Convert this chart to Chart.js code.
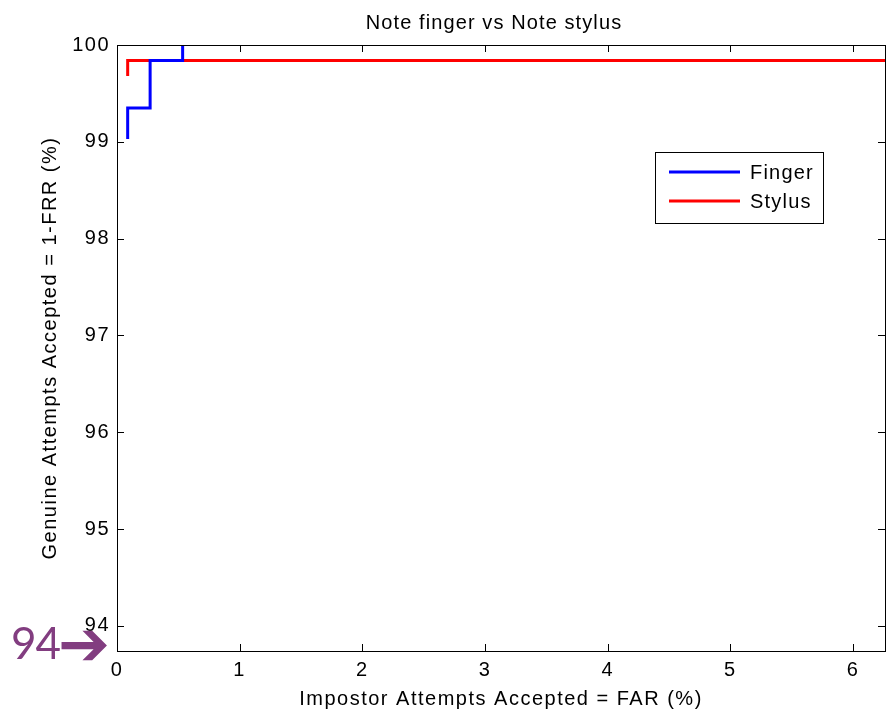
<!DOCTYPE html>
<html>
<head>
<meta charset="utf-8">
<title>Note finger vs Note stylus</title>
<script src="https://cdn.jsdelivr.net/npm/chart.js@4.4.1/dist/chart.umd.min.js"></script>
<style>
  html, body { margin: 0; padding: 0; background: #fff; }
  #wrap { position: relative; width: 886px; height: 712px; }
</style>
</head>
<body>
<div id="wrap"><canvas id="roc"></canvas></div>
<script>
// ROC staircase corners: FAR (%) vs 1-FRR (%)
const fingerFar = [0.087, 0.087, 0.27, 0.27, 0.535, 0.535];
const fingerGar = [99.03, 99.35, 99.35, 99.84, 99.84, 100];
const stylusFar = [0.087, 0.087, 6.26];
const stylusGar = [99.68, 99.84, 99.84];

const xTicks = [0, 1, 2, 3, 4, 5, 6];
const yTicks = [94, 95, 96, 97, 98, 99, 100];
const xRange = [0, 6.26];
const yRange = [93.74, 100];

const FONT = "'Liberation Sans', Arial, sans-serif";

function toPoints(xs, ys) {
    return xs.map(function(x, i) { return {x: x, y: ys[i]}; });
}

// matlab-ish box: frame, inward ticks on all four sides, legend, title
const matlabAxes = {
    id: 'matlabAxes',
    beforeDraw: function(chart) {
        // matlab's helvetica runs a bit wider than liberation
        chart.ctx.letterSpacing = '1.5px';
    },
    afterDatasetsDraw: function(chart) {
        const ctx = chart.ctx;
        const a = chart.chartArea;
        const xs = chart.scales.x, ys = chart.scales.y;
        const tl = 7;
        ctx.save();
        ctx.strokeStyle = '#000';
        ctx.lineWidth = 1;
        ctx.strokeRect(a.left + 0.5, a.top + 0.5, a.right - a.left, a.bottom - a.top);
        ctx.beginPath();
        xTicks.forEach(function(v) {
            let px = Math.round(xs.getPixelForValue(v)) + 0.5;
            ctx.moveTo(px, a.bottom); ctx.lineTo(px, a.bottom - tl);
            ctx.moveTo(px, a.top); ctx.lineTo(px, a.top + tl);
        });
        yTicks.forEach(function(v) {
            let py = Math.round(ys.getPixelForValue(v)) + 0.5;
            ctx.moveTo(a.left, py); ctx.lineTo(a.left + tl, py);
            ctx.moveTo(a.right, py); ctx.lineTo(a.right - tl, py);
        });
        ctx.stroke();

        // legend box
        const lx = 655.5, ly = 152.5, lw = 168, lh = 71;
        ctx.fillStyle = '#fff';
        ctx.fillRect(lx, ly, lw, lh);
        ctx.strokeRect(lx, ly, lw, lh);
        ctx.font = '20px ' + FONT;
        ctx.letterSpacing = '1.2px';
        ctx.textBaseline = 'middle';
        chart.data.datasets.forEach(function(ds, i) {
            let y = 172 + i * 29;
            ctx.strokeStyle = ds.borderColor;
            ctx.lineWidth = 3;
            ctx.beginPath();
            ctx.moveTo(669, y); ctx.lineTo(740, y);
            ctx.stroke();
            ctx.fillStyle = '#000';
            ctx.fillText(ds.label, 750, y + 1);
        });

        // title
        ctx.letterSpacing = '1.1px';
        ctx.textAlign = 'center';
        ctx.fillText('Note finger vs Note stylus', 494, 23);
        ctx.restore();
    },
    afterDraw: function(chart) {
        // the "94" pointer next to the y axis
        const ctx = chart.ctx;
        ctx.save();
        ctx.fillStyle = '#823d80';
        ctx.textBaseline = 'alphabetic';
        ctx.letterSpacing = '-1px';
        ctx.font = '44px Lato, sans-serif';
        ctx.fillText('94', 11, 659);
        ctx.letterSpacing = '0px';
        ctx.font = '62px "DejaVu Sans", sans-serif';
        ctx.fillText('\u2794', 58, 665);
        ctx.restore();
    }
};

let config = {
    type: 'line',
    data: {
        datasets: [
            {
                label: 'Finger',
                data: toPoints(fingerFar, fingerGar),
                borderColor: '#0000ff',
                borderWidth: 3,
                pointRadius: 0,
                fill: false,
                tension: 0
            },
            {
                label: 'Stylus',
                data: toPoints(stylusFar, stylusGar),
                borderColor: '#ff0000',
                borderWidth: 3,
                pointRadius: 0,
                fill: false,
                tension: 0
            }
        ]
    },
    options: {
        responsive: true,
        maintainAspectRatio: false,
        animation: false,
        layout: { padding: { left: 0, top: 45, right: 1, bottom: 0 } },
        plugins: {
            legend: { display: false },
            tooltip: { enabled: false },
            title: { display: false }
        },
        scales: {
            x: {
                type: 'linear',
                min: xRange[0],
                max: xRange[1],
                grid: { display: false, drawTicks: false },
                border: { display: false },
                afterBuildTicks: function(s) { s.ticks = xTicks.map(function(v) { return {value: v}; }); },
                afterFit: function(s) { s.height = 61; },
                ticks: { color: '#000', padding: 7, maxRotation: 0, font: { family: FONT, size: 20 } },
                title: {
                    display: true,
                    text: 'Impostor Attempts Accepted = FAR (%)',
                    color: '#000',
                    font: { family: FONT, size: 20 },
                    padding: { top: 0, bottom: 1 }
                }
            },
            y: {
                type: 'linear',
                min: yRange[0],
                max: yRange[1],
                grid: { display: false, drawTicks: false },
                border: { display: false },
                afterBuildTicks: function(s) { s.ticks = yTicks.map(function(v) { return {value: v}; }); },
                afterFit: function(s) { s.width = 117; },
                ticks: { color: '#000', padding: 7, font: { family: FONT, size: 20 } },
                title: {
                    display: true,
                    text: 'Genuine Attempts Accepted = 1-FRR (%)',
                    color: '#000',
                    font: { family: FONT, size: 20 },
                    padding: { top: 38, bottom: 0 }
                }
            }
        }
    },
    plugins: [matlabAxes]
};

new Chart(document.getElementById('roc'), config);
</script>
</body>
</html>
